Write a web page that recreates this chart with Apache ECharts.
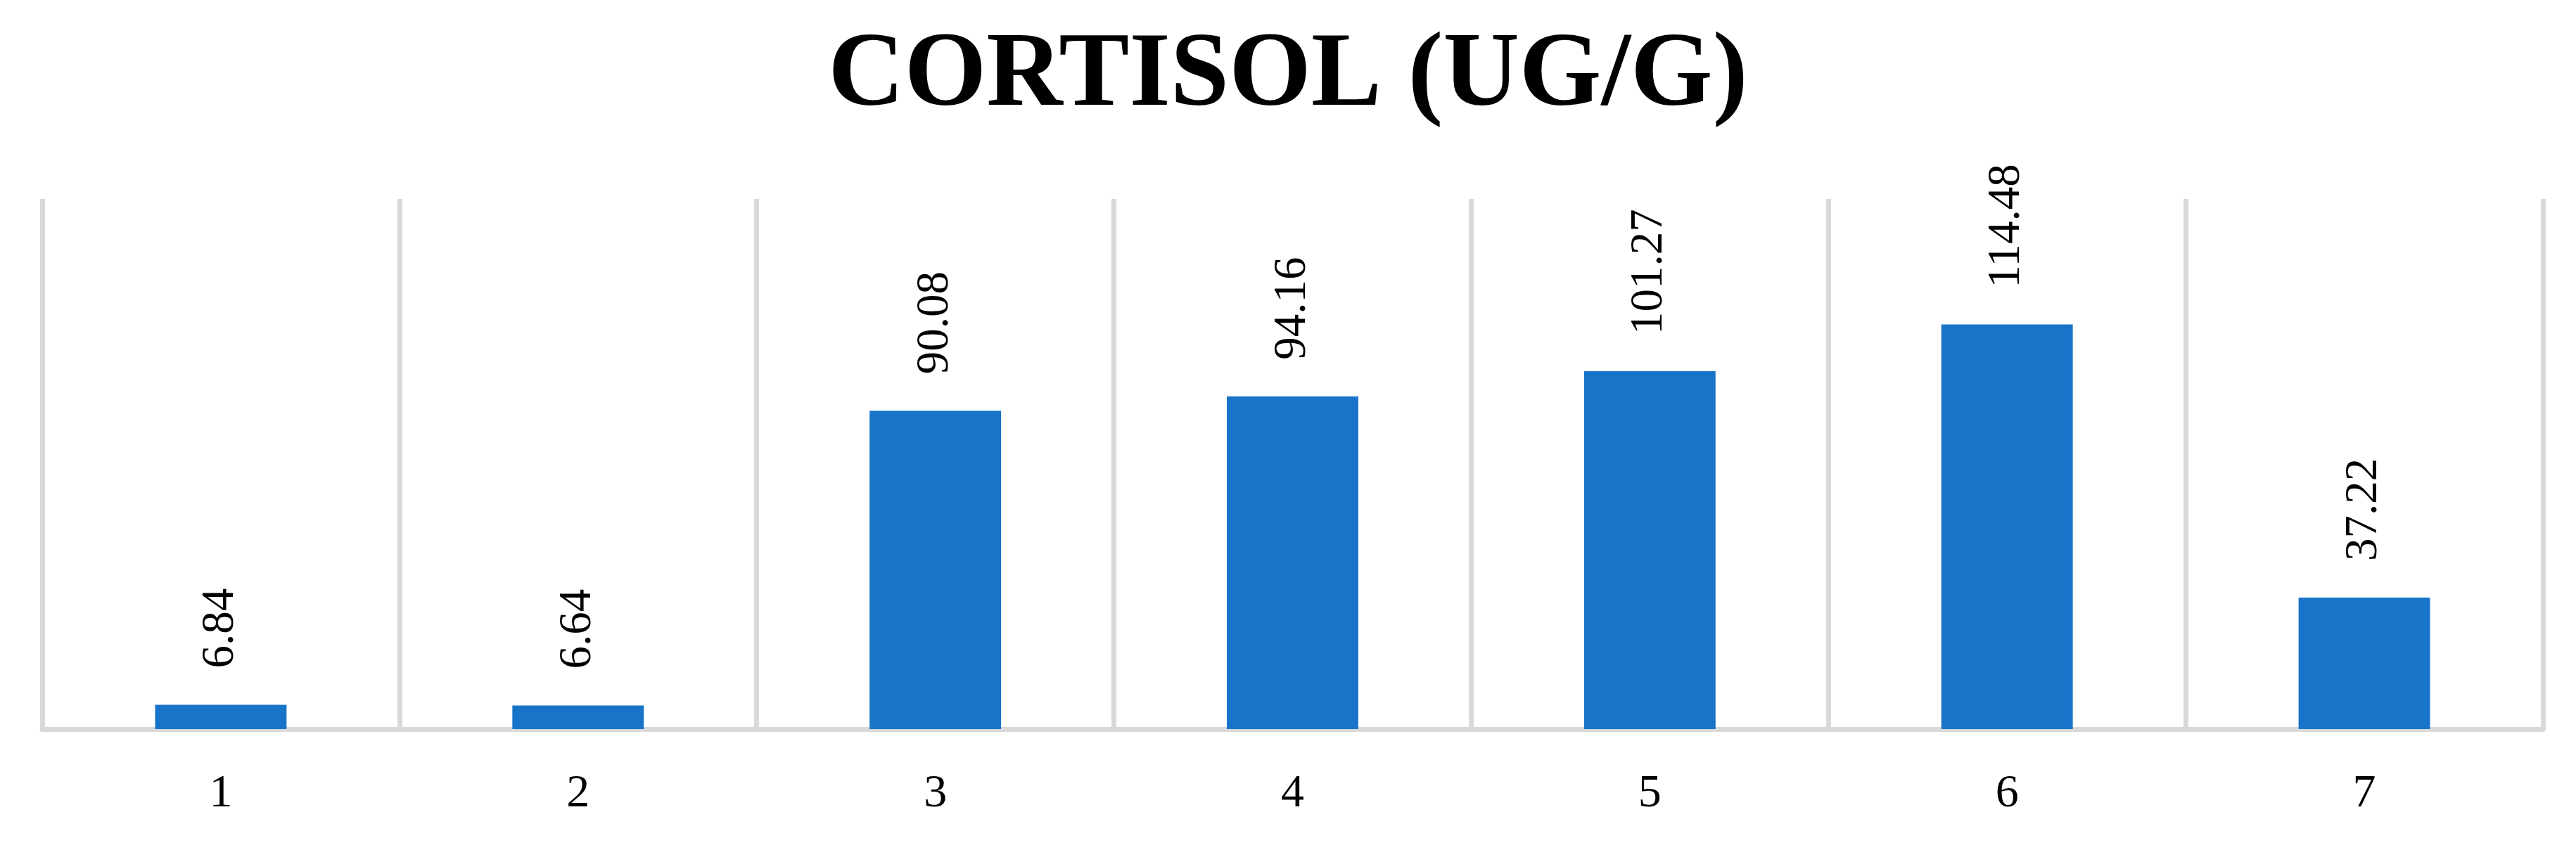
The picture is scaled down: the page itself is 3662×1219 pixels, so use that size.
<!DOCTYPE html>
<html>
<head>
<meta charset="utf-8">
<script src="https://cdn.jsdelivr.net/npm/echarts@6/dist/echarts.min.js"></script>
<style>
  html, body { margin: 0; padding: 0; background: #fff; }
  #chart { width: 3662px; height: 1219px; }
</style>
</head>
<body>
<div id="chart"></div>
<script>
  // values
  const categories = ['1', '2', '3', '4', '5', '6', '7']
  const cortisol = [6.84, 6.64, 90.08, 94.16, 101.27, 114.48, 37.22]
  const titleText = 'CORTISOL (UG/G)'

  const serif = '"Liberation Serif", "DejaVu Serif", serif'
  const gridGray = '#d9d9d9'

  let chart = echarts.init(document.getElementById('chart'))
  let option = {
    backgroundColor: '#fff',
    animation: false,
    title: {
      text: titleText,
      left: 'center',
      top: 30,
      textStyle: {
        fontFamily: serif,
        fontWeight: 'bold',
        fontSize: 150,
        color: '#000'
      }
    },
    grid: {
      left: 60,
      right: 47,
      top: 283,
      bottom: 182,
      containLabel: false
    },
    xAxis: {
      type: 'category',
      data: categories,
      axisLine: { lineStyle: { color: gridGray, width: 7 } },
      axisTick: { show: false },
      splitLine: { show: true, lineStyle: { color: gridGray, width: 7 } },
      axisLabel: {
        margin: 60,
        fontFamily: serif,
        fontSize: 66,
        color: '#000'
      }
    },
    yAxis: {
      type: 'value',
      min: 0,
      max: 150,
      show: false,
      splitLine: { show: false }
    },
    series: [
      {
        type: 'bar',
        data: cortisol,
        barWidth: '36.8%',
        itemStyle: { color: '#1874C9' },
        label: {
          show: true,
          position: 'top',
          rotate: 90,
          align: 'left',
          verticalAlign: 'middle',
          distance: 52,
          fontFamily: serif,
          fontSize: 65,
          color: '#000',
          formatter: p => p.value.toFixed(2)
        }
      }
    ]
  }
  chart.setOption(option)
</script>
</body>
</html>
